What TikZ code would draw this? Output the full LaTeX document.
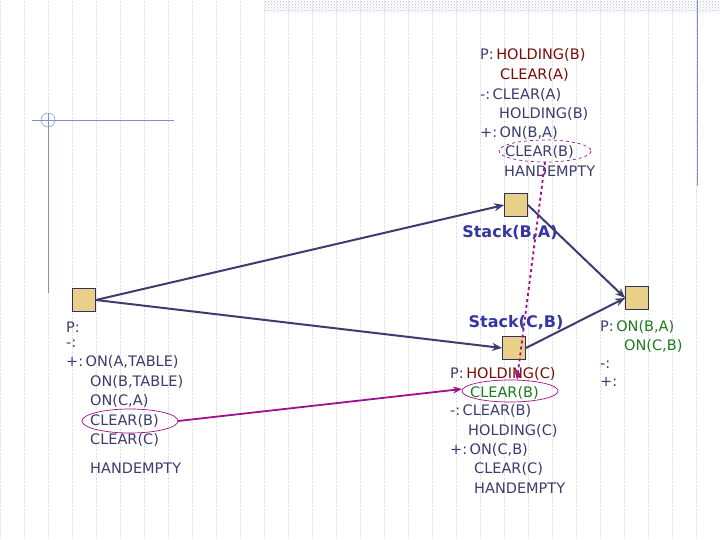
\documentclass[tikz,border=0pt]{standalone}
\usepackage{fontspec}
\setmainfont{DejaVu Sans}
\usetikzlibrary{arrows.meta,patterns}
\definecolor{navy}{HTML}{3C3C6E}
\definecolor{dred}{HTML}{7A0A0A}
\definecolor{dgreen}{HTML}{1E7A1E}
\definecolor{sblue}{HTML}{3535A5}
\definecolor{mag}{HTML}{A0108A}
\definecolor{sq}{HTML}{E8D089}
\definecolor{deco}{HTML}{7F90C8}
\begin{document}
\begin{tikzpicture}[x=1pt,y=-1pt,
  t/.style={anchor=west,inner sep=0pt,text=navy,font=\fontsize{14.5}{14.5}\selectfont},
  lab/.style={anchor=center,inner sep=0pt,text=sblue,font=\fontsize{16}{16}\selectfont\bfseries},
  box/.style={draw=navy!80!black,fill=sq,minimum size=23pt,inner sep=0pt,line width=0.8pt},
  edge/.style={draw=navy,line width=2pt,-{Stealth[length=10pt,width=8pt]}},
  link/.style={draw=mag,line width=1.8pt,-{Stealth[length=9pt,width=7pt]}}]
\useasboundingbox (0,0) rectangle (720,540);
\fill[white] (0,0) rectangle (720,540);
\draw[gray!22,densely dotted] (0,0) grid[step=24] (720,540);
\fill[pattern=crosshatch dots,pattern color=deco!60] (265,0) rectangle (720,13);
\draw[deco,line width=0.6pt] (697,0) -- (697,186);
\draw[deco,line width=0.6pt] (32,120) -- (174,120);
\draw[deco,line width=0.6pt] (48,113) -- (48,293);
\draw[deco,line width=0.5pt] (48,120) circle (7);
% nodes
\node[box] (s0) at (84,300) {};
\node[box] (sba) at (516,205) {};
\node[box] (goal) at (637,298) {};
\node[box] (scb) at (514,348) {};
\node[lab] (lba) at (510,233) {Stack(B,A)};
\node[lab] (lcb) at (516,323) {Stack(C,B)};
% top text
\node[t] (a1) at (480,55) {P:\,\textcolor{dred}{HOLDING(B)}};
\node[t] (a2) at (500,75) {\textcolor{dred}{CLEAR(A)}};
\node[t] (a3) at (480,95) {-:\,CLEAR(A)};
\node[t] (a4) at (499,114) {HOLDING(B)};
\node[t] (a5) at (480,133) {+:\,ON(B,A)};
\node[t] (a6) at (505,152) {CLEAR(B)};
\node[t] (a7) at (504,171) {HANDEMPTY};
\draw[mag,dashed,line width=0.7pt] (545,151) ellipse (46 and 11);
\coordinate (e1) at (545,162);
% left text
\node[t] (b1) at (66,327) {P:};
\node[t] (b2) at (66,344) {-:};
\node[t] (b3) at (66,362) {+:\,ON(A,TABLE)};
\node[t] (b4) at (90,382) {ON(B,TABLE)};
\node[t] (b5) at (90,401) {ON(C,A)};
\node[t] (b6) at (90,421) {CLEAR(B)};
\node[t] (b7) at (90,440) {CLEAR(C)};
\node[t] (b8) at (90,468) {HANDEMPTY};
\draw[mag,line width=0.7pt] (130,421) ellipse (48 and 12);
\coordinate (e2) at (178,421);
% middle text
\node[t] (c1) at (450,374) {P:\,\textcolor{dred}{HOLDING(C)}};
\node[t] (c2) at (470,393) {\textcolor{dgreen}{CLEAR(B)}};
\node[t] (c3) at (450,411) {-:\,CLEAR(B)};
\node[t] (c4) at (468,431) {HOLDING(C)};
\node[t] (c5) at (450,450) {+:\,ON(C,B)};
\node[t] (c6) at (474,469) {CLEAR(C)};
\node[t] (c7) at (474,488) {HANDEMPTY};
\draw[mag,line width=0.7pt] (510,391) ellipse (48 and 11);
\coordinate (e3) at (462,389);
\coordinate (e4) at (517,380);
% right text
\node[t] (d1) at (600,327) {P:\,\textcolor{dgreen}{ON(B,A)}};
\node[t] (d2) at (624,346) {\textcolor{dgreen}{ON(C,B)}};
\node[t] (d3) at (600,365) {-:};
\node[t] (d4) at (600,382) {+:};
% edges
\draw[edge] (s0.east) -- (sba.west);
\draw[edge] (s0.east) -- (scb.west);
\draw[edge] (sba.east) -- (goal.west);
\draw[edge] (scb.east) -- (goal.west);
\draw[link] (e2) -- (e3);
\draw[link,dashed] (e1) -- (e4);
\end{tikzpicture}
\end{document}
